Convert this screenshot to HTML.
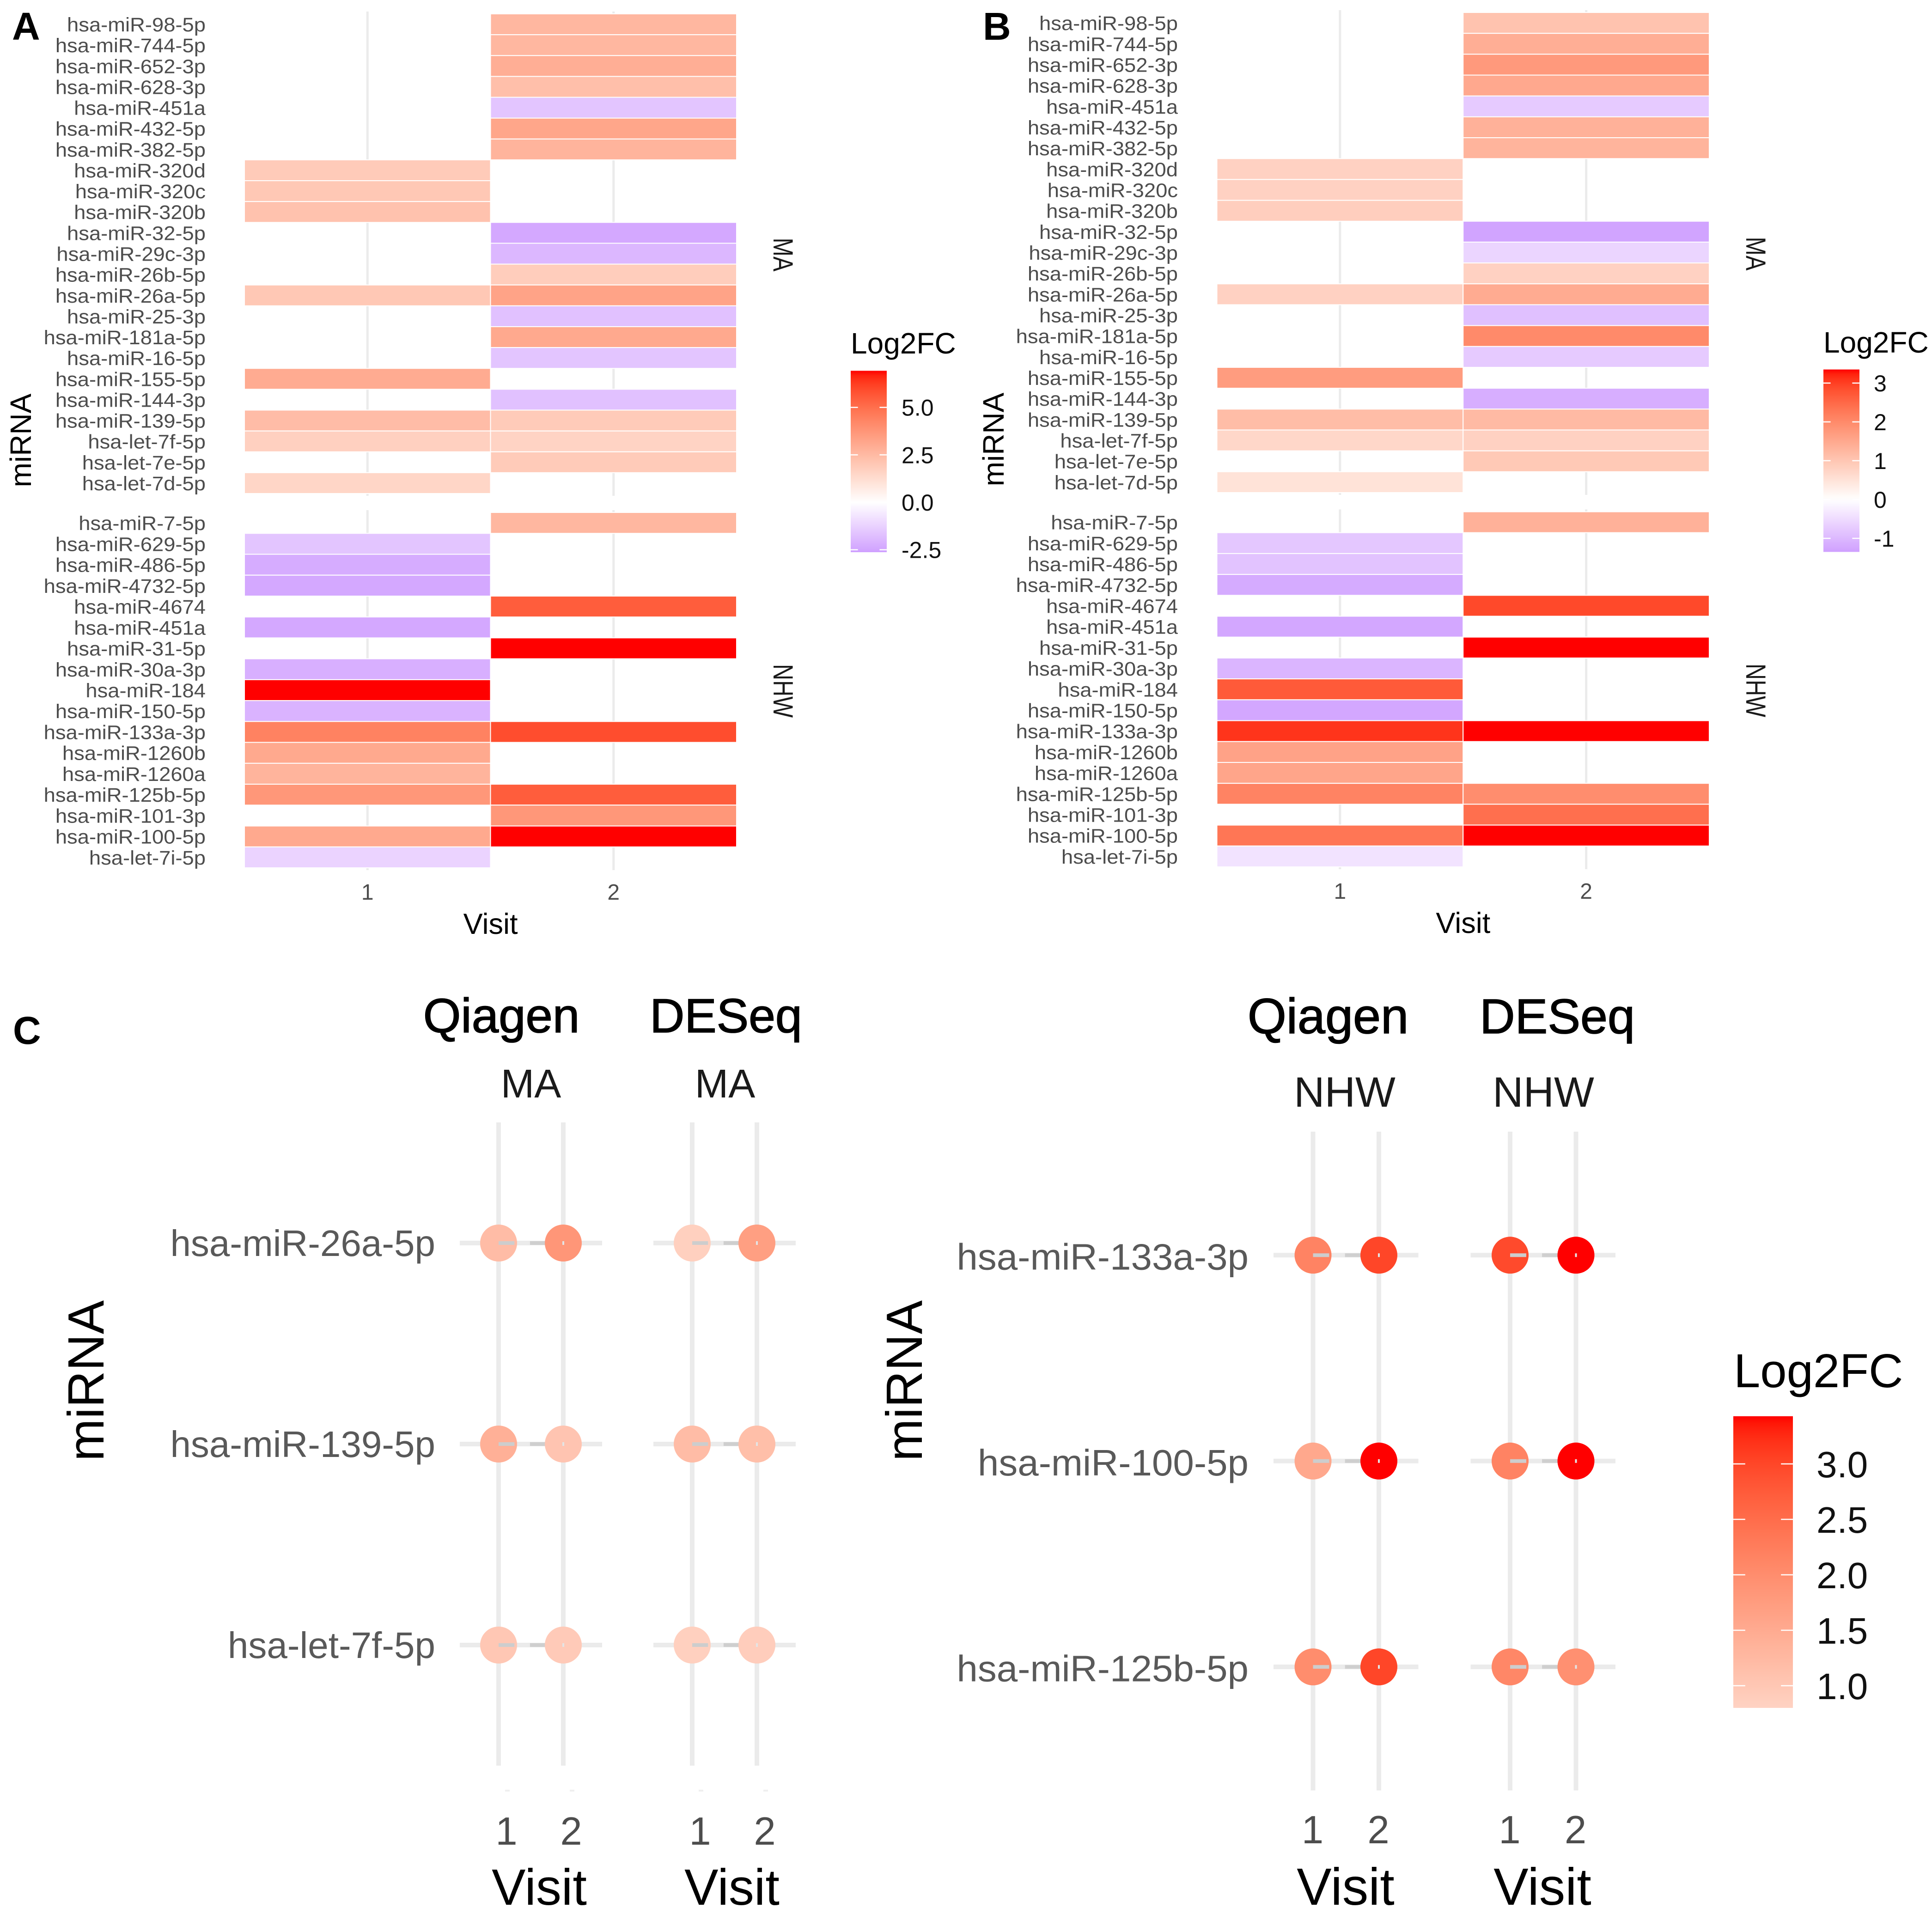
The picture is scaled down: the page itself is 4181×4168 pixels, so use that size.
<!DOCTYPE html>
<html lang="en">
<head>
<meta charset="utf-8">
<title>miRNA Log2FC heatmaps and dot plots</title>
<style>
html,body{margin:0;padding:0;background:#fff;}
svg{display:block;font-family:"Liberation Sans",Arial,sans-serif;}
</style>
</head>
<body>
<svg id="figure" xmlns="http://www.w3.org/2000/svg" width="4181" height="4168" viewBox="0 0 4181 4168">
  <defs id="defs"></defs>
  <rect x="0" y="0" width="4181" height="4168" fill="#ffffff"></rect>
  <g id="panel-a"></g>
  <g id="panel-b"></g>
  <g id="panel-c"></g>
  <text x="26" y="86" font-size="84" font-weight="700" fill="#000">A</text>
  <text x="2127" y="86" font-size="84" font-weight="700" fill="#000">B</text>
  <text x="28" y="2259" font-size="84" font-weight="700" fill="#000">C</text>
</svg>
<script>
/* ---------- categories ---------- */
const categoriesMA = ["hsa-miR-98-5p","hsa-miR-744-5p","hsa-miR-652-3p","hsa-miR-628-3p","hsa-miR-451a","hsa-miR-432-5p","hsa-miR-382-5p","hsa-miR-320d","hsa-miR-320c","hsa-miR-320b","hsa-miR-32-5p","hsa-miR-29c-3p","hsa-miR-26b-5p","hsa-miR-26a-5p","hsa-miR-25-3p","hsa-miR-181a-5p","hsa-miR-16-5p","hsa-miR-155-5p","hsa-miR-144-3p","hsa-miR-139-5p","hsa-let-7f-5p","hsa-let-7e-5p","hsa-let-7d-5p"];
const categoriesNHW = ["hsa-miR-7-5p","hsa-miR-629-5p","hsa-miR-486-5p","hsa-miR-4732-5p","hsa-miR-4674","hsa-miR-451a","hsa-miR-31-5p","hsa-miR-30a-3p","hsa-miR-184","hsa-miR-150-5p","hsa-miR-133a-3p","hsa-miR-1260b","hsa-miR-1260a","hsa-miR-125b-5p","hsa-miR-101-3p","hsa-miR-100-5p","hsa-let-7i-5p"];
const visits = [1, 2];

/* ---------- panel A values (Log2FC), same order as categories ---------- */
const panelAMaVisit1 = [null,null,null,null,null,null,null,1.9,2.0,2.2,null,null,null,2.0,null,null,null,3.0,null,2.4,1.7,null,1.5];
const panelAMaVisit2 = [2.6,2.6,2.9,2.3,-1.6,3.2,2.7,null,null,null,-2.4,-2.0,1.8,3.3,-1.7,3.1,-1.6,null,-1.7,1.9,1.6,1.9,null];
const panelANhwVisit1 = [null,-1.6,-2.3,-2.4,null,-2.4,null,-2.2,6.93,-2.1,4.4,3.1,2.7,3.7,null,3.1,-1.2];
const panelANhwVisit2 = [2.6,null,null,null,5.5,null,6.93,null,null,null,5.9,null,null,5.5,3.7,6.93,null];

/* ---------- panel B values ---------- */
const panelBMaVisit1 = [null,null,null,null,null,null,null,0.8,0.8,0.85,null,null,null,0.8,null,null,null,1.7,null,1.15,0.7,null,0.5];
const panelBMaVisit2 = [1.05,1.4,1.75,1.5,-0.75,1.35,1.3,null,null,null,-1.3,-0.6,0.8,1.45,-0.9,2.0,-0.75,null,-1.15,1.2,0.8,0.95,null];
const panelBNhwVisit1 = [null,-0.8,-0.85,-1.2,null,-1.25,null,-1.05,2.7,-1.25,3.1,1.6,1.55,2.1,null,2.3,-0.4];
const panelBNhwVisit2 = [1.35,null,null,null,2.9,null,3.35,null,null,null,3.35,null,null,1.95,2.4,3.35,null];

/* ---------- legend ticks ---------- */
const legendTicksA = [5.0, 2.5, 0.0, -2.5];
const legendTickLabelsA = ["5.0", "2.5", "0.0", "-2.5"];
const legendTicksB = [3, 2, 1, 0, -1];
const legendTickLabelsB = ["3", "2", "1", "0", "-1"];
const legendTicksC = [3.0, 2.5, 2.0, 1.5, 1.0];
const legendTickLabelsC = ["3.0", "2.5", "2.0", "1.5", "1.0"];

/* ---------- panel C values ---------- */
const dotCategoriesMA = ["hsa-miR-26a-5p","hsa-miR-139-5p","hsa-let-7f-5p"];
const dotCategoriesNHW = ["hsa-miR-133a-3p","hsa-miR-100-5p","hsa-miR-125b-5p"];
const qiagenMaVisit1 = [1.2, 1.4, 1.0];
const qiagenMaVisit2 = [1.85, 1.05, 0.95];
const deseqMaVisit1 = [0.85, 1.2, 0.85];
const deseqMaVisit2 = [1.7, 1.15, 0.9];
const qiagenNhwVisit1 = [2.15, 1.55, 2.0];
const qiagenNhwVisit2 = [3.0, 3.43, 3.0];
const deseqNhwVisit1 = [2.95, 2.15, 2.1];
const deseqNhwVisit2 = [3.43, 3.43, 1.95];

/* ---------- helpers ---------- */
const NS = "http://www.w3.org/2000/svg";
function mk(tag, parent, attrs) {
  const el = document.createElementNS(NS, tag);
  for (const k in attrs) el.setAttribute(k, attrs[k]);
  parent.appendChild(el);
  return el;
}
function txt(parent, str, x, y, size, fill, anchor, rot, sx) {
  const el = mk("text", parent, {
    transform: "translate(" + x + "," + y + ") rotate(" + (rot || 0) + ") scale(" + (sx || 1) + ",1)",
    "font-size": size, fill: fill, "text-anchor": anchor || "start"
  });
  el.textContent = str;
  return el;
}
function kebab(s) { return String(s).toLowerCase().replace(/[^a-z0-9]+/g, "-"); }

/* Lab colour interpolation, as ggplot2 gradient scales do */
function toLab(rgb) {
  const l = rgb.map(c => { c /= 255; return c > 0.04045 ? Math.pow((c + 0.055) / 1.055, 2.4) : c / 12.92; });
  const X = (0.4124 * l[0] + 0.3576 * l[1] + 0.1805 * l[2]) / 0.95047;
  const Y = 0.2126 * l[0] + 0.7152 * l[1] + 0.0722 * l[2];
  const Z = (0.0193 * l[0] + 0.1192 * l[1] + 0.9505 * l[2]) / 1.08883;
  const f = t => t > 0.008856 ? Math.cbrt(t) : 7.787 * t + 16 / 116;
  return [116 * f(Y) - 16, 500 * (f(X) - f(Y)), 200 * (f(Y) - f(Z))];
}
function fromLab(L) {
  const fy = (L[0] + 16) / 116, fx = fy + L[1] / 500, fz = fy - L[2] / 200;
  const g = t => t * t * t > 0.008856 ? t * t * t : (t - 16 / 116) / 7.787;
  const X = g(fx) * 0.95047, Y = g(fy), Z = g(fz) * 1.08883;
  const lin = [3.2406 * X - 1.5372 * Y - 0.4986 * Z, -0.9689 * X + 1.8758 * Y + 0.0415 * Z, 0.0557 * X - 0.204 * Y + 1.057 * Z];
  const out = lin.map(c => {
    c = Math.max(0, Math.min(1, c));
    c = c > 0.0031308 ? 1.055 * Math.pow(c, 1 / 2.4) - 0.055 : 12.92 * c;
    return Math.round(c * 255);
  });
  return "rgb(" + out.join(",") + ")";
}
const labWhite = toLab([255, 255, 255]);
const labRed = toLab([255, 0, 0]);
const labLow = toLab([207, 160, 255]);
function colorScale(vmin, vmax) {
  return function (v) {
    const end = v >= 0 ? labRed : labLow;
    const t = Math.min(1, v >= 0 ? v / vmax : v / vmin);
    return fromLab(labWhite.map((c, i) => c + (end[i] - c) * t));
  };
}

let gradCount = 0;
function drawLegend(parent, cfg, ticks, tickLabels, color, prefix) {
  const y = v => cfg.y0 - (v - cfg.v0) * cfg.unit;
  const id = "grad" + (gradCount++);
  const grad = mk("linearGradient", document.getElementById("defs"), { id: id, x1: 0, y1: 0, x2: 0, y2: 1 });
  const N = 40;
  for (let i = 0; i <= N; i++) {
    const v = cfg.vmax + (cfg.vmin - cfg.vmax) * i / N;
    mk("stop", grad, { offset: (i / N), "stop-color": color(v) });
  }
  const title = txt(parent, "Log2FC", cfg.titleX, cfg.titleY, cfg.titleSize, "#000");
  
  
  const bar = mk("rect", parent, { x: cfg.x, y: y(cfg.vmax), width: cfg.w, height: y(cfg.vmin) - y(cfg.vmax), fill: "url(#" + id + ")" });
  
  
  ticks.forEach((v, i) => {
    const py = y(v);
    [[cfg.x, cfg.x + cfg.w * 0.2], [cfg.x + cfg.w * 0.8, cfg.x + cfg.w]].forEach(seg => {
      const tick = mk("line", parent, { x1: seg[0], x2: seg[1], y1: py, y2: py, stroke: "#fff", "stroke-width": 2.5 });
      
      
    });
    const lab = txt(parent, tickLabels[i], cfg.labelX, py + cfg.labelSize * 0.36, cfg.labelSize, "#111");
    
    
  });
}

function drawFacet(parent, cfg, facet, cats, v1, v2, color, stripY, prefix) {
  const band = (cfg.x2 - cfg.x0) / 2;
  const xLeft = visit => cfg.x0 + (visit - 1) * band;
  const xMid = visit => xLeft(visit) + band / 2;
  const step = (facet.bottom - facet.top) / cats.length;
  const yTop = i => facet.top + i * step;

  visits.forEach(vis => {
    const g = mk("line", parent, { x1: xMid(vis), x2: xMid(vis), y1: facet.top - 5, y2: facet.bottom + 5, stroke: "#ebebeb", "stroke-width": 5 });
    
    
  });
  cats.forEach((c, i) => {
    const lab = txt(parent, c, cfg.labelX, yTop(i) + step / 2 + 15.5, 43, "#4d4d4d", "end", 0, 1.055);
    
    
    [v1, v2].forEach((series, s) => {
      const v = series[i];
      if (v === null) return;
      const cell = mk("rect", parent, { x: xLeft(visits[s]), y: yTop(i), width: band, height: step, fill: color(v), stroke: "#fff", "stroke-width": 2 });
      
      
    });
  });
  const strip = txt(parent, facet.name, cfg.stripX, stripY, 60, "#1a1a1a", "middle", 90, 0.81);
  
  
}

function drawHeatmap(parent, cfg, ma, nhw, color, prefix) {
  drawFacet(parent, cfg, { name: "MA", top: cfg.maTop, bottom: cfg.maBottom }, categoriesMA, ma[0], ma[1], color, cfg.maStripY, prefix + '-ma');
  drawFacet(parent, cfg, { name: "NHW", top: cfg.nhwTop, bottom: cfg.nhwBottom }, categoriesNHW, nhw[0], nhw[1], color, cfg.nhwStripY, prefix + '-nhw');
  const band = (cfg.x2 - cfg.x0) / 2;
  visits.forEach(vis => {
    const t = txt(parent, String(vis), cfg.x0 + (vis - 0.5) * band, cfg.xTickY, 48, "#4d4d4d", "middle");
    
    
  });
  const xt = txt(parent, "Visit", cfg.x0 + band, cfg.xTitleY, 63, "#000", "middle");
  
  
  const yt = txt(parent, "miRNA", cfg.yTitleX, cfg.yTitleY, 64, "#000", "middle", -90);
  
  
}

function drawDotFacet(parent, cfg, facet, cats, v1, v2, color, showTitle, prefix) {
  const x = vis => facet.x1 + (vis - 1) * cfg.xStep;
  const y = i => cfg.top + (i + 0.6) * cfg.yStep;
  const bottom = cfg.top + (cats.length + 0.2 - 0) * cfg.yStep;

  const head = txt(parent, facet.head, facet.headX, cfg.headY, facet.headSize, "#000", "middle");
  head.setAttribute('stroke', '#000');
  head.setAttribute('stroke-width', '1.6');
  
  
  const strip = txt(parent, facet.strip, facet.stripX, cfg.stripY, cfg.stripSize, "#1a1a1a", "middle");
  
  

  visits.forEach(vis => {
    const gl = mk("line", parent, { x1: x(vis), x2: x(vis), y1: cfg.top, y2: bottom, stroke: "#ebebeb", "stroke-width": 10 });
    
    
    if (cfg.tinyTicks) {
      const tk = mk("rect", parent, { x: x(vis) + 14, y: cfg.tickMarkY, width: 10, height: 4, fill: "#efefef" });
      
      
    }
    const lab = txt(parent, String(vis), x(vis) + cfg.tickDx, cfg.tickY, 85, "#4d4d4d", "middle");
    
    
  });
  const vt = txt(parent, "Visit", facet.visitX, cfg.visitY, cfg.visitSize, "#000", "middle");
  
  

  cats.forEach((c, i) => {
    const hl = mk("line", parent, { x1: x(1) - 0.6 * cfg.xStep, x2: x(2) + 0.6 * cfg.xStep, y1: y(i), y2: y(i), stroke: "#ebebeb", "stroke-width": 10 });
    
    
    const between = mk("rect", parent, { x: x(1) + 0.485 * cfg.xStep, y: y(i) - 4, width: 0.25 * cfg.xStep, height: 8, fill: "#cfcfcf" });
    
    
    [v1, v2].forEach((series, s) => {
      const dot = mk("circle", parent, { cx: x(visits[s]), cy: y(i), r: 40, fill: color(series[i]) });
      
      
    });
    const dash = mk("rect", parent, { x: x(1), y: y(i) - 4, width: 0.245 * cfg.xStep, height: 8, fill: "#cdcdcd" });
    
    
    const pip = mk("rect", parent, { x: x(2) - 2, y: y(i) - 4, width: 4, height: 8, fill: "#e4e4e4" });
    
    
    if (showTitle) {
      const lab = txt(parent, c, cfg.labelX, y(i) + cfg.labelDy, 80, "#595959", "end", 0, cfg.labelSx);
      
      
    }
  });
}

/* ---------- build ---------- */
const panelA = document.getElementById("panel-a");
const panelB = document.getElementById("panel-b");
const panelC = document.getElementById("panel-c");

const colorA = colorScale(-2.63, 6.93);
drawHeatmap(panelA, {
  x0: 529, x2: 1594, labelX: 445, maTop: 30, maBottom: 1068, nhwTop: 1109, nhwBottom: 1878,
  stripX: 1674, maStripY: 551, nhwStripY: 1495, xTickY: 1947, xTitleY: 2021, yTitleX: 67, yTitleY: 953
}, [panelAMaVisit1, panelAMaVisit2], [panelANhwVisit1, panelANhwVisit2], colorA, 'panel-a');
drawLegend(panelA, {
  x: 1841, w: 78, y0: 1087, v0: 0, unit: 41.07, vmax: 6.93, vmin: -2.63,
  titleX: 1841, titleY: 765, titleSize: 64, labelX: 1951, labelSize: 50
}, legendTicksA, legendTickLabelsA, colorA, 'panel-a');

const colorB = colorScale(-1.35, 3.35);
drawHeatmap(panelB, {
  x0: 2633.5, x2: 3699, labelX: 2549, maTop: 27, maBottom: 1066, nhwTop: 1107.5, nhwBottom: 1876,
  stripX: 3779, maStripY: 549, nhwStripY: 1494, xTickY: 1945, xTitleY: 2019, yTitleX: 2172, yTitleY: 951
}, [panelBMaVisit1, panelBMaVisit2], [panelBNhwVisit1, panelBNhwVisit2], colorB, 'panel-b');
drawLegend(panelB, {
  x: 3946, w: 78, y0: 1081, v0: 0, unit: 84, vmax: 3.35, vmin: -1.35,
  titleX: 3946, titleY: 763, titleSize: 64, labelX: 4055, labelSize: 50
}, legendTicksB, legendTickLabelsB, colorB, 'panel-b');

const colorC = colorScale(-1, 3.43);
const dotLeft = { top: 2429, yStep: 435, xStep: 140, headY: 2234, stripY: 2375, stripSize: 87, tickMarkY: 3873, tinyTicks: true, tickDx: 17, tickY: 3992, visitY: 4122, visitSize: 110, labelX: 942, labelDy: 28, labelSx: 1 };
const dotRight = { top: 2449, yStep: 445.5, xStep: 142.5, headY: 2236, stripY: 2395, stripSize: 92, tickMarkY: 3873, tinyTicks: false, tickDx: -1, tickY: 3989, visitY: 4122, visitSize: 113, labelX: 2702, labelDy: 31, labelSx: 1.022 };

drawDotFacet(panelC, dotLeft, { x1: 1079, head: "Qiagen", headX: 1085, headSize: 105, strip: "MA", stripX: 1149, visitX: 1167 }, dotCategoriesMA, qiagenMaVisit1, qiagenMaVisit2, colorC, true, 'qiagen-ma');
drawDotFacet(panelC, dotLeft, { x1: 1498, head: "DESeq", headX: 1571, headSize: 104, strip: "MA", stripX: 1569, visitX: 1584 }, dotCategoriesMA, deseqMaVisit1, deseqMaVisit2, colorC, false, 'deseq-ma');
drawDotFacet(panelC, dotRight, { x1: 2841.5, head: "Qiagen", headX: 2874, headSize: 108, strip: "NHW", stripX: 2910, visitX: 2912 }, dotCategoriesNHW, qiagenNhwVisit1, qiagenNhwVisit2, colorC, true, 'qiagen-nhw');
drawDotFacet(panelC, dotRight, { x1: 3268, head: "DESeq", headX: 3370, headSize: 106, strip: "NHW", stripX: 3340, visitX: 3338 }, dotCategoriesNHW, deseqNhwVisit1, deseqNhwVisit2, colorC, false, 'deseq-nhw');

const cYLeft = txt(panelC, "miRNA", 224, 2988, 110, "#000", "middle", -90);


const cYRight = txt(panelC, "miRNA", 1995, 2988, 110, "#000", "middle", -90);



drawLegend(panelC, {
  x: 3751, w: 129, y0: 3168, v0: 3.0, unit: 240, vmax: 3.43, vmin: 0.8,
  titleX: 3752, titleY: 3002, titleSize: 103, labelX: 3931, labelSize: 80
}, legendTicksC, legendTickLabelsC, colorC, 'panel-c');
</script>
</body>
</html>
